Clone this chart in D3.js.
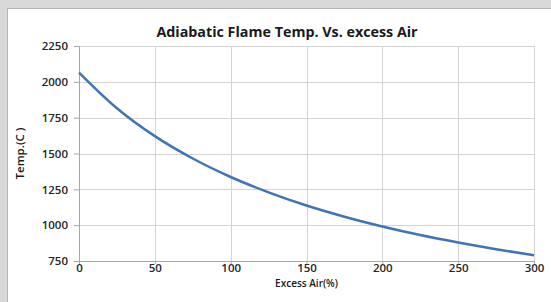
<!DOCTYPE html>
<html>
<head>
<meta charset="utf-8">
<script src="https://cdn.jsdelivr.net/npm/d3@7"></script>
<style>
  body { margin: 0; background: #d9d9d9; }
  svg { display: block; }
</style>
</head>
<body>
<div id="chart"></div>
<script>
// data
var excessAir = [0, 25, 50, 75, 100, 125, 150, 175, 200, 225, 250, 275, 300];
var flameTemp = [2065, 1816, 1621, 1465, 1336, 1229, 1137, 1059, 991, 931, 879, 832, 790];
var xTicks = [0, 50, 100, 150, 200, 250, 300];
var yTicks = [750, 1000, 1250, 1500, 1750, 2000, 2250];

var W = 551, H = 302;
var margin = {top: 46, right: 17, bottom: 41, left: 79},
  width = W - margin.left - margin.right,
  height = H - margin.top - margin.bottom;

var svg = d3.select("#chart").append("svg")
  .attr("width", W)
  .attr("height", H);

// white panel
svg.append("rect")
  .attr("x", 7.5).attr("y", 8.5)
  .attr("width", W).attr("height", H)
  .attr("fill", "#fff")
  .attr("stroke", "#b5b5b5");

var g = svg.append("g")
  .attr("transform", "translate(" + margin.left + "," + margin.top + ")");

var x = d3.scaleLinear().domain([0, 300]).range([0, width]);
var y = d3.scaleLinear().domain([750, 2250]).range([height, 0]);

// grid
g.append("g").selectAll("line")
  .data(yTicks.slice(1))
  .join("line")
  .attr("x1", 0).attr("x2", width)
  .attr("y1", function(d) { return Math.round(y(d)) + 0.5; })
  .attr("y2", function(d) { return Math.round(y(d)) + 0.5; })
  .attr("stroke", "#d4d4d4");

g.append("g").selectAll("line")
  .data(xTicks.slice(1))
  .join("line")
  .attr("y1", 0).attr("y2", height)
  .attr("x1", function(d) { return Math.round(x(d)) + 0.5; })
  .attr("x2", function(d) { return Math.round(x(d)) + 0.5; })
  .attr("stroke", "#d4d4d4");

// axes
var fmt = d3.format("d");
var xAxis = g.append("g")
  .attr("transform", "translate(0," + height + ")")
  .call(d3.axisBottom(x).tickValues(xTicks).tickFormat(fmt).tickSize(3).tickPadding(0));

var yAxis = g.append("g")
  .call(d3.axisLeft(y).tickValues(yTicks).tickFormat(fmt).tickSize(5).tickPadding(6));

[xAxis, yAxis].forEach(function(a) {
  a.select(".domain").attr("stroke", "#a6a6a6");
  a.selectAll(".tick line").attr("stroke", "#a6a6a6");
  a.selectAll("text")
    .attr("fill", "#262626")
    .style("font-family", "'Open Sans', sans-serif")
    .style("font-weight", "600")
    .style("font-size", "11.5px");
});

// the curve
var line = d3.line()
  .x(function(d, i) { return x(excessAir[i]); })
  .y(function(d) { return y(d); })
  .curve(d3.curveMonotoneX);

g.append("path")
  .datum(flameTemp)
  .attr("fill", "none")
  .attr("stroke", "#3f74b6")
  .attr("stroke-width", 2.5)
  .attr("d", line);

// titles
svg.append("text")
  .attr("x", 287).attr("y", 37)
  .attr("text-anchor", "middle")
  .style("font-family", "'Open Sans', sans-serif")
  .style("font-weight", "bold")
  .style("font-size", "14.3px")
  .attr("fill", "#1a1a1a")
  .text("Adiabatic Flame Temp. Vs. excess Air");

svg.append("text")
  .attr("x", margin.left + width / 2).attr("y", 287)
  .attr("text-anchor", "middle")
  .style("font-family", "'Open Sans', sans-serif")
  .style("font-weight", "600")
  .style("font-size", "10px")
  .attr("fill", "#1a1a1a")
  .text("Excess Air(%)");

svg.append("text")
  .attr("transform", "translate(24," + (margin.top + height / 2) + ") rotate(-90)")
  .attr("text-anchor", "middle")
  .style("font-family", "'Open Sans', sans-serif")
  .style("font-weight", "600")
  .style("font-size", "11.5px")
  .attr("fill", "#1a1a1a")
  .text("Temp.(C )");
</script>
</body>
</html>
